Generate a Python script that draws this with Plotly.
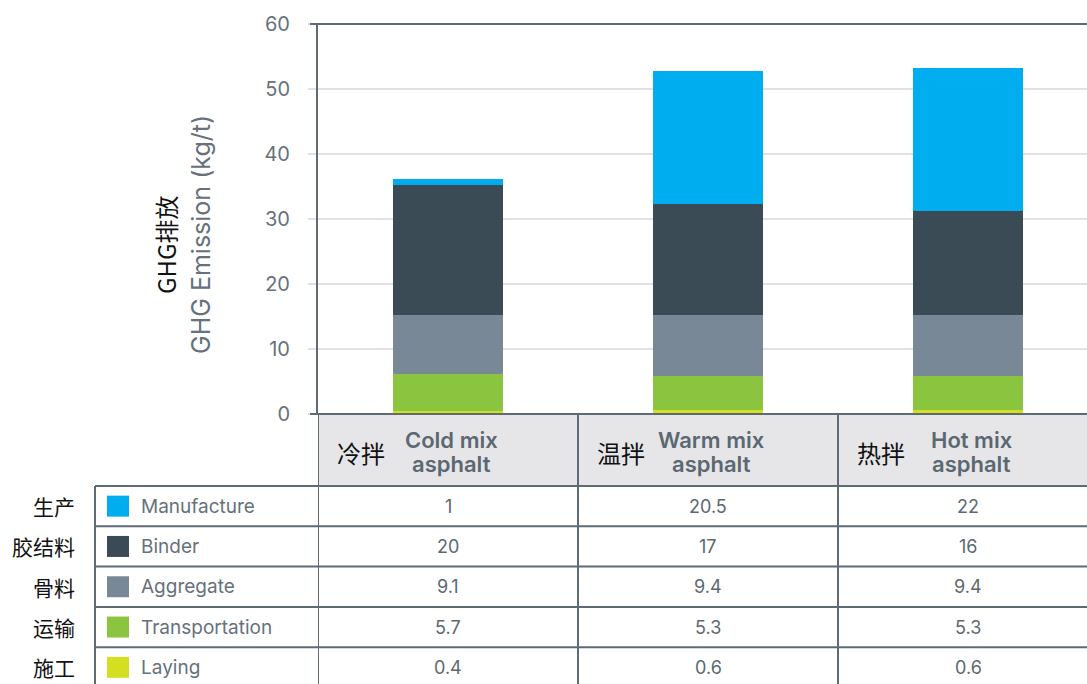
import plotly.graph_objects as go

# ---- data -------------------------------------------------------------
mix_cn = ["冷拌", "温拌", "热拌"]
mix_en = ["Cold mix asphalt", "Warm mix asphalt", "Hot mix asphalt"]

stage_cn = ["生产", "胶结料", "骨料", "运输", "施工"]
stage_en = ["Manufacture", "Binder", "Aggregate", "Transportation", "Laying"]

manufacture = [1, 20.5, 22]
binder = [20, 17, 16]
aggregate = [9.1, 9.4, 9.4]
transportation = [5.7, 5.3, 5.3]
laying = [0.4, 0.6, 0.6]

stage_values = [manufacture, binder, aggregate, transportation, laying]
stage_colors = ["#00adee", "#3b4b56", "#788896", "#8bc53f", "#d5df22"]

y_ticks = [0, 10, 20, 30, 40, 50, 60]

# ---- page geometry (pixels) --------------------------------------------
W, H = 1087, 684
L, T = 318, 24           # plot area left / top
PLOT_H = 390             # plot area height
PLOT_W = W - L
B = H - T - PLOT_H       # bottom margin holding the table

def px(x):
    return (x - L) / PLOT_W

def py(y):
    return (T + PLOT_H - y) / PLOT_H

FONT = "Inter, Noto Sans CJK SC, sans-serif"
CJK = "Noto Sans CJK SC, sans-serif"
GRID = "#e0e0e5"
LINE = "#5f6b74"
TXT = "#66717b"

fig = go.Figure()

# stacked bars, bottom layer first
for name, vals, col in reversed(list(zip(stage_en, stage_values, stage_colors))):
    fig.add_trace(go.Bar(
        x=mix_en, y=vals, name=name,
        marker=dict(color=col, line=dict(width=0)),
        showlegend=False, hoverinfo="x+y+name",
    ))

n_cat = len(mix_en)
x_right = -0.5 + n_cat * PLOT_W / (n_cat * 260)  # 260 px per category column

fig.update_layout(
    width=W, height=H,
    margin=dict(l=L, r=0, t=T, b=B, pad=0),
    paper_bgcolor="white", plot_bgcolor="white",
    barmode="stack", bargap=0.58,
    font=dict(family=FONT, color=TXT),
    xaxis=dict(
        type="category", range=[-0.5, x_right],
        showticklabels=False, showgrid=False, zeroline=False,
        showline=False, ticks="",
    ),
    yaxis=dict(
        range=[0, 60], tickvals=y_ticks,
        showgrid=True, gridcolor=GRID, gridwidth=2,
        zeroline=False,
        showline=True, linecolor=LINE, linewidth=2,
        ticks="outside", ticklen=8, tickwidth=2, tickcolor=GRID,
        ticklabelstandoff=14,
        tickfont=dict(size=20, color=TXT, family=FONT),
    ),
)

shapes = []

# dark frame lines at 0 and 60 reaching past the tick stubs
for yy in (0, 1):
    shapes.append(dict(type="line", xref="paper", yref="paper",
                       x0=px(310), x1=1.0, y0=yy, y1=yy,
                       line=dict(color=LINE, width=2)))

# ---- table ---------------------------------------------------------------
HEAD_TOP = T + PLOT_H
HEAD_BOT = 486
ROW_H = 40.3
TABLE_BOT = H + 4
LEG_LEFT = 95

# header background
shapes.append(dict(type="rect", xref="paper", yref="paper",
                   x0=0, x1=1, y0=py(HEAD_BOT), y1=py(HEAD_TOP),
                   fillcolor="#e6e6e9", line=dict(width=0), layer="below"))

# horizontal rules
for r in range(len(stage_en)):
    yy = HEAD_BOT + r * ROW_H
    shapes.append(dict(type="line", xref="paper", yref="paper",
                       x0=px(LEG_LEFT), x1=1.0, y0=py(yy), y1=py(yy),
                       line=dict(color=LINE, width=2)))

# vertical rules: legend box edge and category column edges
shapes.append(dict(type="line", xref="paper", yref="paper",
                   x0=px(LEG_LEFT), x1=px(LEG_LEFT), y0=py(HEAD_BOT), y1=py(TABLE_BOT),
                   line=dict(color=LINE, width=2)))
for i in range(n_cat):
    shapes.append(dict(type="line", xref="x", yref="paper",
                       x0=i - 0.5, x1=i - 0.5, y0=py(HEAD_TOP), y1=py(TABLE_BOT),
                       line=dict(color=LINE, width=2)))

annotations = []

# header cells: Chinese name on the left, English name in two tight lines
for i, (cn, en) in enumerate(zip(mix_cn, mix_en)):
    annotations.append(dict(
        x=i - 0.5, xref="x", y=py(452), yref="paper",
        xshift=17, xanchor="left", yanchor="middle",
        text=cn, showarrow=False,
        font=dict(family=CJK, size=24, color="#111111"),
    ))
    first, second = en.rsplit(" ", 1)
    for line_text, yline in ((first, 440), (second, 464)):
        annotations.append(dict(
            x=i, xref="x", y=py(yline), yref="paper",
            xshift=3, xanchor="center", yanchor="middle",
            text=line_text, showarrow=False,
            font=dict(family=FONT, size=22, color="#5c6871", weight=600),
        ))

# legend column and value cells
for r, (cn, en, vals, col) in enumerate(zip(stage_cn, stage_en, stage_values, stage_colors)):
    yc = HEAD_BOT + (r + 0.5) * ROW_H
    annotations.append(dict(
        x=px(77), xref="paper", y=py(yc), yref="paper",
        xanchor="right", yanchor="middle", text=cn, showarrow=False,
        font=dict(family=CJK, size=21, color="#111111"),
    ))
    shapes.append(dict(type="rect", xref="paper", yref="paper",
                       x0=px(107), x1=px(129), y0=py(yc + 10.5), y1=py(yc - 10.5),
                       fillcolor=col, line=dict(width=0)))
    annotations.append(dict(
        x=px(139), xref="paper", y=py(yc), yref="paper",
        xanchor="left", yanchor="middle", text=en, showarrow=False,
        font=dict(family=FONT, size=19, color=TXT),
    ))
    for i, v in enumerate(vals):
        annotations.append(dict(
            x=i, xref="x", y=py(yc), yref="paper",
            xanchor="center", yanchor="middle", text=f"{v:g}", showarrow=False,
            font=dict(family=FONT, size=18, color="#5c6871"),
        ))

# axis title, two lines
annotations.append(dict(
    x=px(165), xref="paper", y=py(245), yref="paper",
    text="GHG排放", textangle=-90, showarrow=False,
    xanchor="center", yanchor="middle",
    font=dict(family=CJK, size=24, color="#111111"),
))
annotations.append(dict(
    x=px(201), xref="paper", y=py(235), yref="paper",
    text="GHG Emission (kg/t)", textangle=-90, showarrow=False,
    xanchor="center", yanchor="middle",
    font=dict(family=FONT, size=25, color=TXT),
))

fig.update_layout(shapes=shapes, annotations=annotations)
fig.write_html("out.html")
